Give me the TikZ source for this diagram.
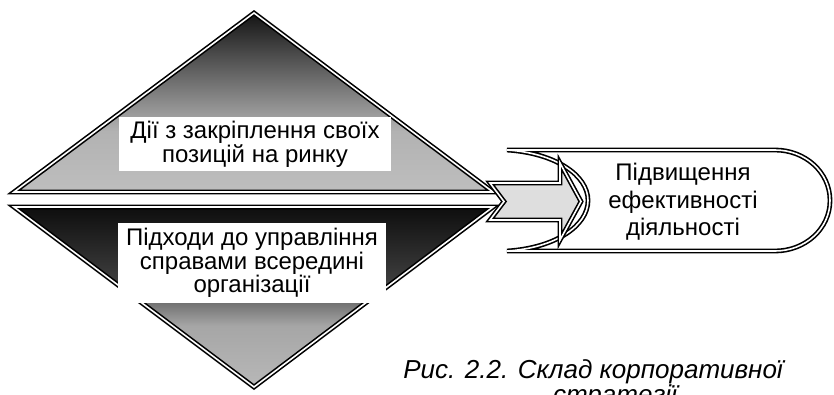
\documentclass[tikz,border=0pt]{standalone}
\usepackage{fontspec}
\setmainfont{Liberation Sans}
\definecolor{uA}{HTML}{141414}
\definecolor{uB}{HTML}{B2B2B2}
\definecolor{uC}{HTML}{BEBEBE}
\definecolor{lA}{HTML}{0E0E0E}
\definecolor{lB}{HTML}{3C3C3C}
\definecolor{lC}{HTML}{A6A6A6}
\definecolor{lD}{HTML}{B8B8B8}
\definecolor{arrowfill}{HTML}{DEDEDE}
\pgfdeclareverticalshading{upshade}{100bp}{color(0bp)=(uC); color(25bp)=(uC); color(42bp)=(uB); color(75bp)=(uA); color(100bp)=(uA)}
\pgfdeclareverticalshading{downshade}{100bp}{color(0bp)=(lD); color(25bp)=(lD); color(42bp)=(lC); color(55bp)=(lB); color(75bp)=(lA); color(100bp)=(lA)}
\tikzset{
  dbl/.style={draw=black, line width=1.6pt, double=white, double distance=1.6pt, line join=miter},
  txt/.style={font=\fontsize{24}{22}\selectfont, align=center},
  whitebox/.style={txt, fill=white, inner sep=0pt},
  captxt/.style={inner sep=0pt, font=\fontsize{26}{30}\selectfont\itshape},
}
\begin{document}
\begin{tikzpicture}[x=1pt,y=-1pt]
\useasboundingbox (0,0) rectangle (834,394);
% upper triangle
\coordinate (uL) at (14,192);
\coordinate (uT) at (254,13);
\coordinate (uR) at (493,192);
\shade[shading=upshade] (uL) -- (uT) -- (uR) -- cycle;
\draw[dbl] (uL) -- (uT) -- (uR) -- cycle;
% lower triangle
\coordinate (lL) at (14,207);
\coordinate (lB) at (254,387);
\coordinate (lR) at (493,207);
\shade[shading=downshade] (lL) -- (lR) -- (lB) -- cycle;
\draw[dbl] (lL) -- (lR) -- (lB) -- cycle;
% result shape
\coordinate (dTL) at (507,150);
\coordinate (dTR) at (775,150);
\coordinate (dR) at (830,200.5);
\coordinate (dBR) at (775,251);
\coordinate (dBL) at (507,251);
\coordinate (dL) at (588,200.5);
\draw[dbl, fill=white] (dTL) -- (dTR) .. controls (805,150) and (830,172) .. (dR)
  .. controls (830,229) and (805,251) .. (dBR) -- (dBL)
  .. controls (555,248) and (588,226) .. (dL)
  .. controls (588,175) and (555,153) .. (dTL) -- cycle;
% block arrow
\coordinate (a1) at (490,183);
\coordinate (a2) at (560,183);
\coordinate (a3) at (560,163);
\coordinate (aT) at (581,201.5);
\coordinate (a5) at (560,240);
\coordinate (a6) at (560,220);
\coordinate (a7) at (490,220);
\coordinate (aN) at (504,201.5);
\draw[dbl, fill=arrowfill] (a1) -- (a2) -- (a3) -- (aT) -- (a5) -- (a6) -- (a7) -- (aN) -- cycle;
% texts
\node[whitebox, minimum width=272pt, minimum height=54pt] (t1) at (255,144)
  {Дії з закріплення своїх\\позицій на ринку};
\node[whitebox, minimum width=268pt, minimum height=80pt] (t2) at (252,263)
  {Підходи до управління\\справами всередині\\організації};
\node[txt, font=\fontsize{24}{27.5}\selectfont] (t3) at (683,202)
  {Підвищення\\ефективності\\діяльності};
\node[captxt, anchor=base east] (cap1) at (783,378)
  {Рис. 2.2. Склад корпоративної};
\node[captxt, anchor=base] (cap2) at (615,403)
  {стратегії};
\end{tikzpicture}
\end{document}
